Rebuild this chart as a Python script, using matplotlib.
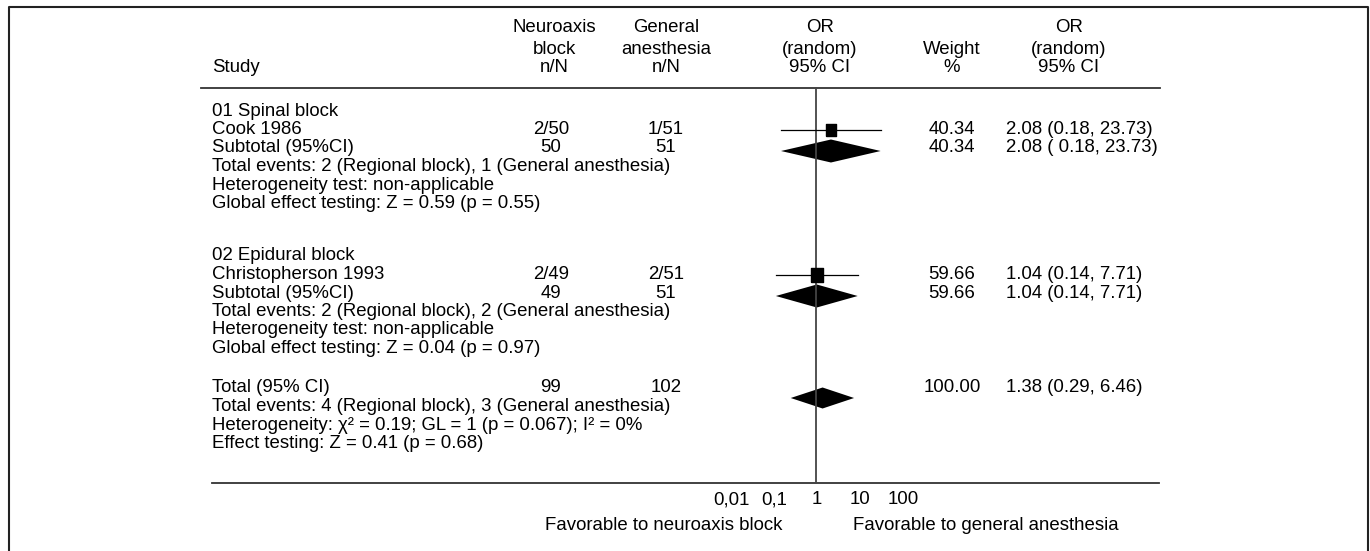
import matplotlib
matplotlib.use("Agg")
import matplotlib.pyplot as plt
import numpy as np

plt.rcParams["font.family"] = ["Liberation Sans", "DejaVu Sans"]

# ---- data -------------------------------------------------------------
group_names = ["01 Spinal block", "02 Epidural block"]
study_names = ["Cook 1986", "Christopherson 1993"]
nb_events = [2, 2]
nb_total = [50, 49]
ga_events = [1, 2]
ga_total = [51, 51]
study_or = [2.08, 1.04]
study_lo = [0.18, 0.14]
study_hi = [23.73, 7.71]
study_weight = [40.34, 59.66]
study_ci_text = ["2.08 (0.18, 23.73)", "1.04 (0.14, 7.71)"]
subtotal_ci_text = ["2.08 ( 0.18, 23.73)", "1.04 (0.14, 7.71)"]
group_events_text = [
    "Total events: 2 (Regional block), 1 (General anesthesia)",
    "Total events: 2 (Regional block), 2 (General anesthesia)",
]
group_het_text = ["Heterogeneity test: non-applicable"] * 2
group_effect_text = [
    "Global effect testing: Z = 0.59 (p = 0.55)",
    "Global effect testing: Z = 0.04 (p = 0.97)",
]

total_nb, total_ga = 99, 102
total_or, total_lo, total_hi = 1.38, 0.29, 6.46
total_weight = 100.00
total_lines = [
    "Total events: 4 (Regional block), 3 (General anesthesia)",
    "Heterogeneity: \u03c7\u00b2 = 0.19; GL = 1 (p = 0.067); I\u00b2 = 0%",
    "Effect testing: Z = 0.41 (p = 0.68)",
]

tick_values = [0.01, 0.1, 1, 10, 100]
tick_labels = ["0,01", "0,1", "1", "10", "100"]

# ---- layout (pixel units, y down) -------------------------------------
W, H = 1370, 551
FS = 13.4
X_STUDY, X_NB, X_GA, X_OR, X_W, X_CI, X_OR2 = 212, 551, 666, 820, 952, 1006, 1069
GROUP_TOP = [111, 256]
ROW_STEP = 18.5
TOTAL_TOP = 388
LINE_HEAD, LINE_AXIS = 88, 483

fig = plt.figure(figsize=(W / 100, H / 100), dpi=100)
ax = fig.add_axes([0, 0, 1, 1])
ax.set_xlim(0, W)
ax.set_ylim(H, 0)
ax.axis("off")

# forest axes: log scale, 47 px per decade, OR = 1 at x = 816
px_dec = 47
lo_dec, hi_dec = -2.5, 2.0
fax = fig.add_axes([(816 + lo_dec * px_dec) / W, 0, (hi_dec - lo_dec) * px_dec / W, 1])
fax.set_xscale("log")
fax.set_xlim(10 ** lo_dec, 10 ** hi_dec)
fax.set_ylim(H, 0)
fax.axis("off")
fax.patch.set_alpha(0)

line_col = "#333333"
txt = dict(fontsize=FS, va="center", color="black")

# frame
ax.plot([9, 9, 1368, 1368], [H + 10, 7, 7, H + 10], color="#222222", lw=1.5)

# header
head_rows = [28, 49, 68]
ax.text(X_STUDY, head_rows[2], "Study", ha="left", **txt)
for x, lines in [
    (X_NB + 3, ["Neuroaxis", "block", "n/N"]),
    (X_GA, ["General", "anesthesia", "n/N"]),
    (X_OR, ["OR", "(random)", "95% CI"]),
    (X_W, ["", "Weight", "%"]),
    (X_OR2, ["OR", "(random)", "95% CI"]),
]:
    for y, s in zip(head_rows, lines):
        ax.text(x, y, s, ha="center", **txt)
ax.plot([201, 1160], [LINE_HEAD, LINE_HEAD], color=line_col, lw=1.3)

# reference line at OR = 1
fax.plot([1, 1], [LINE_HEAD, LINE_AXIS], color="#444444", lw=1.3)

rect = [(-0.38, -0.5), (0.38, -0.5), (0.38, 0.5), (-0.38, 0.5), (-0.38, -0.5)]
half_h = 11.5

for i in range(len(group_names)):
    y0 = GROUP_TOP[i]
    rows = [y0 + k * ROW_STEP for k in range(6)]
    ax.text(X_STUDY, rows[0], group_names[i], ha="left", **txt)
    # study row
    ax.text(X_STUDY, rows[1], study_names[i], ha="left", **txt)
    ax.text(X_NB, rows[1], f"{nb_events[i]}/{nb_total[i]}", ha="center", **txt)
    ax.text(X_GA, rows[1], f"{ga_events[i]}/{ga_total[i]}", ha="center", **txt)
    ax.text(X_W, rows[1], f"{study_weight[i]:.2f}", ha="center", **txt)
    ax.text(X_CI, rows[1], study_ci_text[i], ha="left", **txt)
    fax.plot([study_lo[i], study_hi[i]], [rows[1], rows[1]], color="black", lw=0.9)
    fax.plot(study_or[i], rows[1], marker=rect, ms=1.36 * np.sqrt(study_weight[i]),
             color="black", ls="none")
    # subtotal row
    ax.text(X_STUDY, rows[2], "Subtotal (95%CI)", ha="left", **txt)
    ax.text(X_NB, rows[2], f"{nb_total[i]}", ha="center", **txt)
    ax.text(X_GA, rows[2], f"{ga_total[i]}", ha="center", **txt)
    ax.text(X_W, rows[2], f"{study_weight[i]:.2f}", ha="center", **txt)
    ax.text(X_CI, rows[2], subtotal_ci_text[i], ha="left", **txt)
    yd = rows[2] + 3
    fax.fill([study_lo[i], study_or[i], study_hi[i], study_or[i]],
             [yd, yd - half_h, yd, yd + half_h], color="black", lw=0)
    ax.text(X_STUDY, rows[3], group_events_text[i], ha="left", **txt)
    ax.text(X_STUDY, rows[4], group_het_text[i], ha="left", **txt)
    ax.text(X_STUDY, rows[5], group_effect_text[i], ha="left", **txt)

# overall total
rows = [TOTAL_TOP + k * ROW_STEP for k in range(4)]
ax.text(X_STUDY, rows[0], "Total (95% CI)", ha="left", **txt)
ax.text(X_NB, rows[0], f"{total_nb}", ha="center", **txt)
ax.text(X_GA, rows[0], f"{total_ga}", ha="center", **txt)
ax.text(X_W, rows[0], f"{total_weight:.2f}", ha="center", **txt)
ax.text(X_CI, rows[0], f"{total_or:.2f} ({total_lo:.2f}, {total_hi:.2f})", ha="left", **txt)
yd = rows[0] + 10
fax.fill([total_lo, total_or, total_hi, total_or],
         [yd, yd - 10.5, yd, yd + 10.5], color="black", lw=0)
for k, s in enumerate(total_lines):
    ax.text(X_STUDY, rows[k + 1], s, ha="left", **txt)

# bottom axis line and tick labels (labels spaced ~43 px per decade)
ax.plot([212, 1159], [LINE_AXIS, LINE_AXIS], color=line_col, lw=1.3)
tdec = 43
tax = fig.add_axes([(817 - 2.5 * tdec) / W, (H - LINE_AXIS) / H, 5 * tdec / W, 0.001])
tax.set_xscale("log")
tax.set_xlim(10 ** -2.5, 10 ** 2.5)
tax.set_xticks(tick_values)
tax.set_xticklabels(tick_labels)
tax.minorticks_off()
tax.tick_params(axis="x", length=0, pad=6, labelsize=FS)
tax.set_yticks([])
for sp in tax.spines.values():
    sp.set_visible(False)
tax.patch.set_alpha(0)

ax.text(782, 526, "Favorable to neuroaxis block", ha="right", **txt)
ax.text(853, 526, "Favorable to general anesthesia", ha="left", **txt)

fig.savefig("out.png", dpi=100)
